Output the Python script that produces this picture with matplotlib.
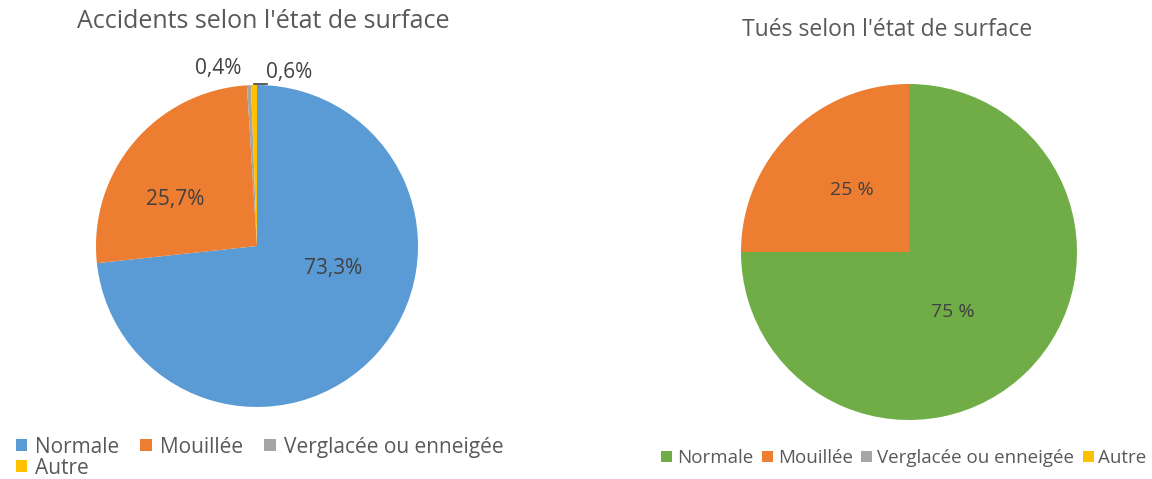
import matplotlib.pyplot as plt
from matplotlib.patches import Patch

plt.rcParams['font.family'] = ['Open Sans', 'DejaVu Sans']

categories   = ['Normale', 'Mouillée', 'Verglacée ou enneigée', 'Autre']
accidents    = [73.3, 25.7, 0.4, 0.6]
acc_labels   = ['73,3%', '25,7%', '0,4%', '0,6%']
tues         = [75, 25, 0, 0]
tues_labels  = ['75 %', '25 %', '', '']

acc_colors  = ['#5B9BD5', '#ED7D31', '#A5A5A5', '#FFC000']
tues_colors = ['#70AD47', '#ED7D31', '#A5A5A5', '#FFC000']
txt_col     = '#595959'
lab_col     = '#404040'

W, H = 1152, 479
fig = plt.figure(figsize=(W / 100, H / 100), dpi=100)


def px_axes(cx, cy, r):
    # square axes centred on (cx, cy) in pixel coords (origin top-left)
    return fig.add_axes([(cx - r) / W, (H - cy - r) / H, 2 * r / W, 2 * r / H])


## Left pie: accidents
ax1 = px_axes(257, 246, 161)
ax1.pie(accidents, colors=acc_colors, startangle=90, counterclock=False,
        radius=1, wedgeprops=dict(linewidth=0))
ax1.set_xlim(-1, 1)
ax1.set_ylim(-1, 1)
ax1.set_aspect('equal')
ax1.axis('off')

acc_pos = [(0.47, -0.14), (-0.51, 0.29), (-0.24, 1.10), (0.20, 1.08)]
for (x, y), lab in zip(acc_pos, acc_labels):
    ax1.text(x, y, lab, ha='center', va='center', fontsize=15, color=lab_col)
ax1.plot([-0.02, 0.06], [1.005, 1.005], color='#404040', lw=1.2, clip_on=False)

fig.text(263 / W, 1 - 21 / H, "Accidents selon l'état de surface",
         ha='center', va='center', fontsize=18, color=txt_col)

## Right pie: tués
ax2 = px_axes(909, 252, 168)
ax2.pie(tues, colors=tues_colors, startangle=90, counterclock=False,
        radius=1, wedgeprops=dict(linewidth=0))
ax2.set_xlim(-1, 1)
ax2.set_ylim(-1, 1)
ax2.set_aspect('equal')
ax2.axis('off')

tues_pos = [(0.26, -0.36), (-0.34, 0.37)]
for (x, y), lab in zip(tues_pos, tues_labels[:2]):
    ax2.text(x, y, lab, ha='center', va='center', fontsize=14, color=lab_col)

fig.text(887 / W, 1 - 30 / H, "Tués selon l'état de surface",
         ha='center', va='center', fontsize=16.5, color=txt_col)

## Legends (left one wraps: row-major order needs Autre second)
order = [0, 3, 1, 2]
h1 = [Patch(facecolor=acc_colors[i], edgecolor='none') for i in order]
leg1 = fig.legend(h1, [categories[i] for i in order], ncol=3, loc='upper left',
                  bbox_to_anchor=(1 / W, 1 - 422 / H), frameon=False,
                  fontsize=15, handlelength=0.55, handleheight=0.55,
                  handletextpad=0.4, columnspacing=1.0, labelspacing=0.0,
                  borderpad=0.2, labelcolor=txt_col)

h2 = [Patch(facecolor=c, edgecolor='none') for c in tues_colors]
leg2 = fig.legend(h2, categories, ncol=4, loc='upper left',
                  bbox_to_anchor=(648 / W, 1 - 436 / H), frameon=False,
                  fontsize=13.5, handlelength=0.6, handleheight=0.6,
                  handletextpad=0.25, columnspacing=0.45,
                  borderpad=0.2, labelcolor=txt_col)

plt.savefig('out.png', dpi=100)
